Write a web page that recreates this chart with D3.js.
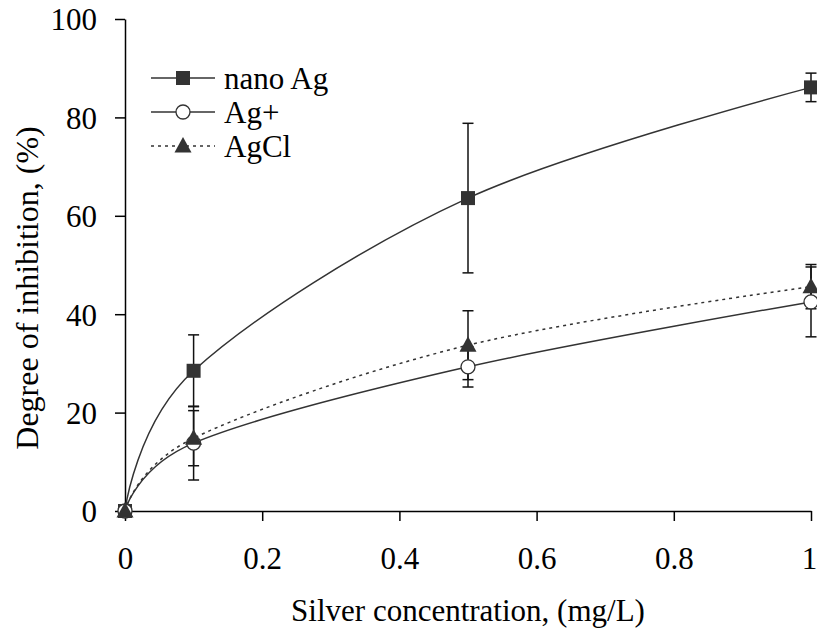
<!DOCTYPE html>
<html><head><meta charset="utf-8">
<script src="https://cdn.jsdelivr.net/npm/d3@7"></script>
<style>body{margin:0;background:#fff}text{font-family:"Liberation Serif","Times New Roman",serif;fill:#000}</style>
</head><body><svg id="c" width="817" height="633"></svg>
<script>
const xValues = [0, 0.1, 0.5, 1];
const nanoAg = [0, 28.5, 63.6, 86.1];
const nanoAgErr = [0, 7.3, 15.2, 2.9];
const agPlus = [0, 13.8, 29.3, 42.5];
const agPlusErr = [0, 7.5, 4.1, 7.1];
const agCl = [0, 14.8, 33.7, 45.6];
const agClErr = [0, 5.6, 7.0, 4.5];
const xTicks = [0, 0.2, 0.4, 0.6, 0.8, 1];
const yTicks = [0, 20, 40, 60, 80, 100];
const seriesNames = ["nano Ag", "Ag+", "AgCl"];

const svg = d3.select("#c");
const x = d3.scaleLinear().domain([0, 1]).range([125, 811]);
const y = d3.scaleLinear().domain([0, 100]).range([511, 19]);
const col = "#333";
const FS = "31px";

const series = [
  {name: seriesNames[0], v: nanoAg, e: nanoAgErr, marker: "square", dash: null},
  {name: seriesNames[1], v: agPlus, e: agPlusErr, marker: "circle", dash: null},
  {name: seriesNames[2], v: agCl, e: agClErr, marker: "triangle", dash: "3,4"}
];

// axes
const xAxis = d3.axisBottom(x).tickValues(xTicks).tickSize(10).tickSizeOuter(0).tickFormat(d => d3.format("")(d));
const yAxis = d3.axisLeft(y).tickValues(yTicks).tickSize(10).tickSizeOuter(0);
const gx = svg.append("g").attr("transform", "translate(0,511)").call(xAxis);
const gy = svg.append("g").attr("transform", "translate(125,0)").call(yAxis);
[gx, gy].forEach(g => {
  g.attr("font-family", null);
  g.select(".domain").attr("stroke", "#000").attr("stroke-width", 1.5);
  g.selectAll(".tick line").attr("stroke", "#000").attr("stroke-width", 1.5);
  g.selectAll(".tick text").style("font-size", FS).style("font-family", "'Liberation Serif', 'Times New Roman', serif").attr("fill", "#000");
});
gx.selectAll(".tick text").attr("dy", 0).attr("y", 58).attr("x", d => d === 1 ? -2 : 0);
gy.selectAll(".tick text").attr("x", -28).attr("dy", "0.35em");

svg.append("text").attr("x", 468).attr("y", 621).attr("text-anchor", "middle").style("font-size", FS).text("Silver concentration, (mg/L)");
svg.append("text").attr("transform", "translate(38,288) rotate(-90)").attr("text-anchor", "middle").style("font-size", "32px").text("Degree of inhibition, (%)");

const line = d3.line().x(d => x(d[0])).y(d => y(d[1])).curve(d3.curveCardinal.tension(0));

function drawMarker(g, type, cx, cy) {
  if (type === "square") g.append("rect").attr("x", cx - 7).attr("y", cy - 7).attr("width", 14).attr("height", 14).attr("fill", col);
  else if (type === "circle") g.append("circle").attr("cx", cx).attr("cy", cy).attr("r", 7).attr("fill", "#fff").attr("stroke", col).attr("stroke-width", 1.3);
  else g.append("path").attr("d", `M${cx},${cy - 9}L${cx + 8.5},${cy + 6.5}L${cx - 8.5},${cy + 6.5}Z`).attr("fill", col);
}

series.forEach(s => {
  const pts = xValues.map((xv, i) => [xv, s.v[i]]);
  svg.append("path").attr("d", line(pts)).attr("fill", "none").attr("stroke", col).attr("stroke-width", 1.5).attr("stroke-dasharray", s.dash);
});
series.forEach(s => {
  const g = svg.append("g");
  xValues.forEach((xv, i) => {
    if (s.e[i] > 0) {
      const cx = x(xv), t = y(s.v[i] + s.e[i]), b = y(s.v[i] - s.e[i]);
      g.append("line").attr("x1", cx).attr("x2", cx).attr("y1", t).attr("y2", b).attr("stroke", "#111").attr("stroke-width", 1.5);
      g.append("line").attr("x1", cx - 5.5).attr("x2", cx + 5.5).attr("y1", t).attr("y2", t).attr("stroke", "#111").attr("stroke-width", 1.5);
      g.append("line").attr("x1", cx - 5.5).attr("x2", cx + 5.5).attr("y1", b).attr("y2", b).attr("stroke", "#111").attr("stroke-width", 1.5);
    }
  });
});
series.forEach(s => {
  const g = svg.append("g");
  xValues.forEach((xv, i) => drawMarker(g, s.marker, x(xv), y(s.v[i])));
});

// legend
series.forEach((s, i) => {
  const ly = 78 + i * 34;
  svg.append("line").attr("x1", 151).attr("x2", 215).attr("y1", ly).attr("y2", ly).attr("stroke", col).attr("stroke-width", 1.5).attr("stroke-dasharray", s.dash);
  drawMarker(svg, s.marker, 183, ly);
  svg.append("text").attr("x", 224).attr("y", ly).attr("dy", "0.35em").style("font-size", FS).text(s.name);
});
</script></body></html>
